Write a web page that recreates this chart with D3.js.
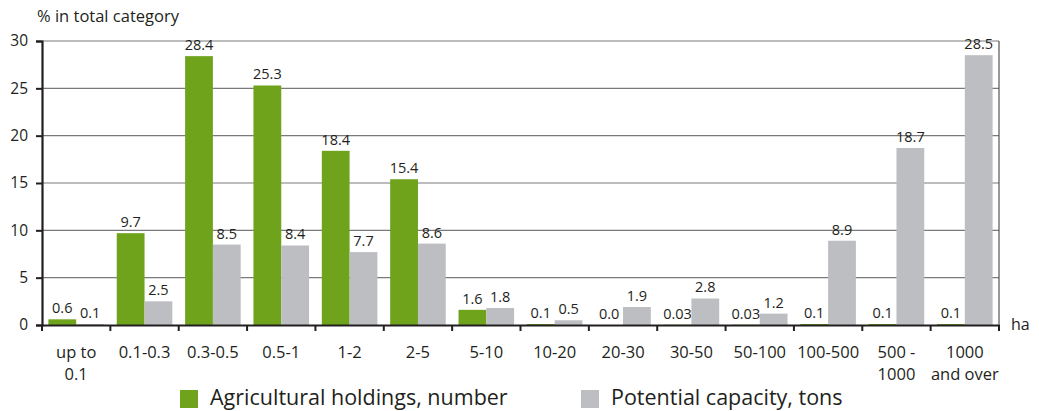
<!DOCTYPE html>
<html><head><meta charset="utf-8">
<script src="https://cdn.jsdelivr.net/npm/d3@7"></script>
<style>body{margin:0;background:#fff;} text{font-family:"Open Sans","Noto Sans",sans-serif;fill:#231f20;}</style>
</head><body><svg id="c" width="1039" height="411"></svg>
<script>
const categories = [["up to","0.1"],["0.1-0.3"],["0.3-0.5"],["0.5-1"],["1-2"],["2-5"],["5-10"],["10-20"],["20-30"],["30-50"],["50-100"],["100-500"],["500 -","1000"],["1000","and over"]];
const holdings = [0.6, 9.7, 28.4, 25.3, 18.4, 15.4, 1.6, 0.1, 0.0, 0.03, 0.03, 0.1, 0.1, 0.1];
const holdingsLabels = ["0.6","9.7","28.4","25.3","18.4","15.4","1.6","0.1","0.0","0.03","0.03","0.1","0.1","0.1"];
const capacity = [0.1, 2.5, 8.5, 8.4, 7.7, 8.6, 1.8, 0.5, 1.9, 2.8, 1.2, 8.9, 18.7, 28.5];
const capacityLabels = ["0.1","2.5","8.5","8.4","7.7","8.6","1.8","0.5","1.9","2.8","1.2","8.9","18.7","28.5"];
const yTicks = [0,5,10,15,20,25,30];
const seriesNames = ["Agricultural holdings, number","Potential capacity, tons"];
const colors = ["#6ea31b","#bdbec1"];

const svg = d3.select("#c");
const L = 42, R = 999, T = 41, B = 325;
const x = d3.scaleBand().domain(d3.range(categories.length)).range([L,R]).paddingInner(0).paddingOuter(0);
const x1 = d3.scaleBand().domain([0,1]).range([0,x.bandwidth()]).paddingInner(0).paddingOuter(0.23);
const y = d3.scaleLinear().domain([0,30]).range([B,T]);

// gridlines
svg.append("g").selectAll("line").data(yTicks.filter(d=>d>0)).join("line")
  .attr("x1",L).attr("x2",R).attr("y1",d=>y(d)).attr("y2",d=>y(d))
  .attr("stroke","#7a7a7a").attr("stroke-width",1.2);
// right frame
svg.append("line").attr("x1",R).attr("x2",R).attr("y1",T).attr("y2",B).attr("stroke","#555").attr("stroke-width",1.2);

// bars
const series = [holdings, capacity];
const labels = [holdingsLabels, capacityLabels];
series.forEach((vals,s)=>{
  svg.append("g").selectAll("rect").data(vals).join("rect")
    .attr("x",(d,i)=>x(i)+x1(s)).attr("width",x1.bandwidth())
    .attr("y",d=>y(d)).attr("height",d=>B-y(d))
    .attr("fill",colors[s]);
  svg.append("g").selectAll("text").data(vals).join("text")
    .attr("x",(d,i)=>x(i)+x1(s)+x1.bandwidth()/2)
    .attr("y",d=>y(d)-6)
    .attr("text-anchor","middle").attr("font-size",14.5)
    .text((d,i)=>labels[s][i]);
});

// y axis
const yAxis = d3.axisLeft(y).tickValues(yTicks).tickSize(6).tickPadding(8);
const gy = svg.append("g").attr("transform",`translate(${L},0)`).call(yAxis);
gy.select(".domain").attr("stroke","#231f20").attr("stroke-width",2.2);
gy.selectAll(".tick line").attr("stroke","#231f20").attr("stroke-width",2);
gy.selectAll(".tick text").attr("font-size",15.5).attr("font-family","Open Sans, sans-serif").attr("fill","#231f20");

// x axis
const xAxis = d3.axisBottom(x).tickValues([]).tickSizeOuter(0);
const gx = svg.append("g").attr("transform",`translate(0,${B})`).call(xAxis);
gx.select(".domain").attr("stroke","#231f20").attr("stroke-width",2.2);
svg.append("g").selectAll("line").data(d3.range(categories.length+1)).join("line")
  .attr("x1",i=>i<categories.length?x(i):R).attr("x2",i=>i<categories.length?x(i):R)
  .attr("y1",B).attr("y2",B+6).attr("stroke","#231f20").attr("stroke-width",2);
svg.append("g").selectAll("text").data(categories).join("text")
  .attr("text-anchor","middle").attr("font-size",16.5)
  .attr("transform",(d,i)=>`translate(${x(i)+x.bandwidth()/2},358)`)
  .each(function(d){
    d3.select(this).selectAll("tspan").data(d).join("tspan")
      .attr("x",0).attr("dy",(t,j)=>j===0?0:22).text(t=>t);
  });

svg.append("text").attr("x",1011).attr("y",330).attr("font-size",16).text("ha");
svg.append("text").attr("x",37).attr("y",22).attr("font-size",16.5).text("% in total category");

// legend
const legX = [180,581];
seriesNames.forEach((n,s)=>{
  svg.append("rect").attr("x",legX[s]).attr("y",390).attr("width",18).attr("height",18).attr("fill",colors[s]);
  svg.append("text").attr("x",legX[s]+30).attr("y",405).attr("font-size",21.5).text(n);
});
</script></body></html>
